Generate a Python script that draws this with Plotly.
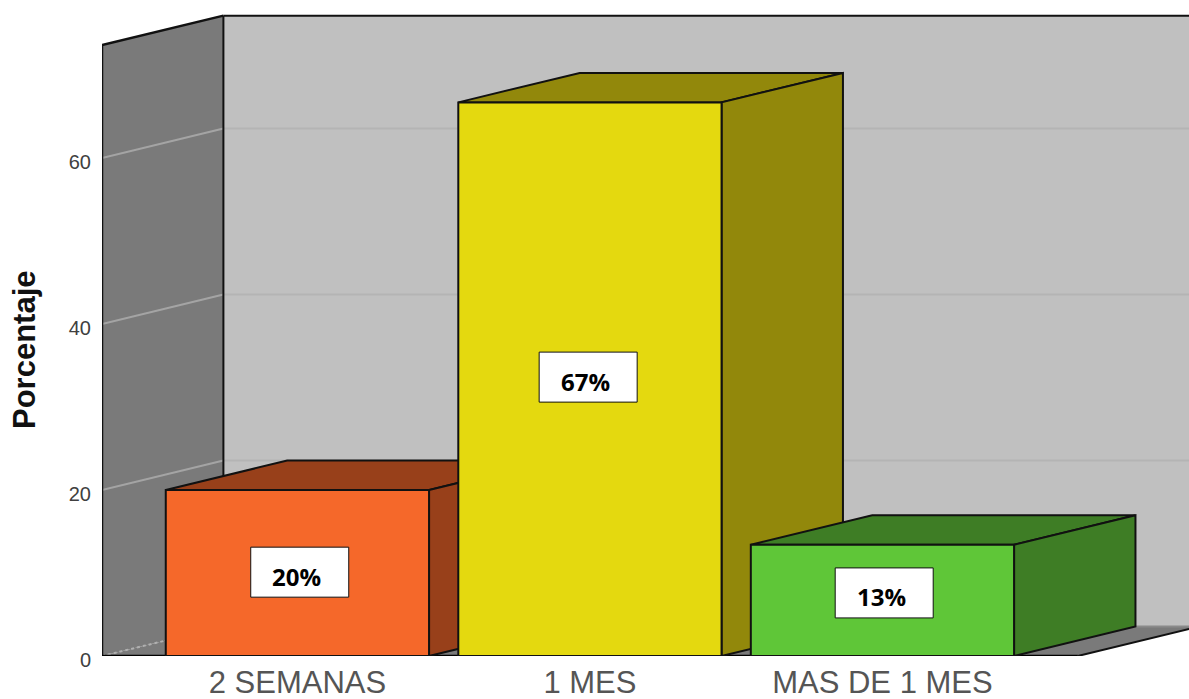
import plotly.graph_objects as go

categories = ["2 SEMANAS", "1 MES", "MAS DE 1 MES"]
positions = [0, 1, 2]
bar_heights = [20.0, 66.7, 13.4]
label_texts = ["20%", "67%", "13%"]
y_ticks = [0, 20, 40, 60]
front_colors = ["#F5682A", "#E4D90F", "#5FC638"]
depth_colors = ["#98401A", "#92880B", "#3E7D25"]

# projection constants
BAR_W = 0.9
DX = 0.415        # depth along x (category units)
DY = 3.55         # depth along y (value units)
X_L = -0.668
X_R = 2.668
WALL_TOP = 73.6
Y_MAX = 656 / 8.3
X_MAX = 3.048
X_END = X_MAX + 0.1
PX_X = 1087 / (X_MAX - X_L)
PX_Y = 8.3
LINE = "#111111"
WALL_DARK = "#7A7A7A"

# label boxes
box_centers_x = [0.008, 0.994, 2.006]
box_centers_y = [10.1, 33.6, 7.6]
BOX_W = 98 / PX_X
BOX_H = 50 / PX_Y


def poly(pts, fill, line=LINE, width=2):
    path = "M " + " L ".join(f"{x},{y}" for x, y in pts) + " Z"
    return dict(type="path", path=path, xref="x", yref="y", fillcolor=fill,
                line=dict(color=line, width=width), layer="below")


def seg(x0, y0, x1, y1, color, width=2, dash="solid", layer="below"):
    return dict(type="line", x0=x0, y0=y0, x1=x1, y1=y1, xref="x", yref="y",
                line=dict(color=color, width=width, dash=dash), layer=layer)


shapes = []
# back wall, left wall, floor (fills only; edges follow)
shapes.append(poly([(X_L + DX, DY), (X_END, DY), (X_END, WALL_TOP + DY), (X_L + DX, WALL_TOP + DY)],
                   "#C0C0C0", line="#C0C0C0", width=0))
shapes.append(poly([(X_L, 0), (X_L + DX, DY), (X_L + DX, WALL_TOP + DY), (X_L, WALL_TOP)],
                   WALL_DARK, line=WALL_DARK, width=0))
shapes.append(poly([(X_L, 0), (X_L + DX, DY), (X_END, DY), (X_R + DX + 0.1, DY + 0.85), (X_R, 0)],
                   WALL_DARK, line=WALL_DARK, width=0))
# grid lines
for t in y_ticks[1:]:
    shapes.append(seg(X_L, t, X_L + DX, t + DY, "#A4A4A4", 2))
    shapes.append(seg(X_L + DX, t + DY, X_END, t + DY, "#B4B4B4", 2))
shapes.append(seg(X_L, 0, X_L + DX, DY, "#B0B0B0", 2, "dot"))
# edges
shapes.append(seg(X_L, 0, X_L, WALL_TOP, LINE, 2.5))
shapes.append(seg(X_L, WALL_TOP, X_L + DX, WALL_TOP + DY, LINE, 2.5))
shapes.append(seg(X_L + DX, DY, X_L + DX, WALL_TOP + DY, LINE, 2))
shapes.append(seg(X_L + DX, WALL_TOP + DY, X_END, WALL_TOP + DY, LINE, 2))
shapes.append(seg(X_L, 0, X_R, 0, "#000000", 2.5))
shapes.append(seg(X_R, 0, X_R + DX, DY, LINE, 2))
shapes.append(seg(X_L + DX, DY, X_END, DY, "#8A8A8A", 2))
# bar depth faces
for p, h, c in zip(positions, bar_heights, depth_colors):
    l, r = p - BAR_W / 2, p + BAR_W / 2
    shapes.append(poly([(l, h), (l + DX, h + DY), (r + DX, h + DY), (r, h)], c))
    shapes.append(poly([(r, 0), (r + DX, DY), (r + DX, h + DY), (r, h)], c))
# label boxes
for bx, by in zip(box_centers_x, box_centers_y):
    shapes.append(dict(type="rect", xref="x", yref="y", x0=bx - BOX_W / 2, x1=bx + BOX_W / 2,
                       y0=by - BOX_H / 2, y1=by + BOX_H / 2, fillcolor="#FFFFFF",
                       line=dict(color="#111111", width=1), layer="above"))

annotations = [
    dict(x=bx, y=by, xref="x", yref="y", text=f"<b>{txt}</b>", showarrow=False,
         xshift=-3, yshift=-4, font=dict(family="Open Sans", size=24, color="#000000"))
    for bx, by, txt in zip(box_centers_x, box_centers_y, label_texts)
]
annotations.append(dict(
    x=0, y=(699 - 350 - 43) / 656, xref="paper", yref="paper", xanchor="center", xshift=-77,
    text="<b>Porcentaje</b>", textangle=-90, showarrow=False, font=dict(size=31, color="#111111"),
))

fig = go.Figure(go.Bar(
    x=positions, y=bar_heights, width=BAR_W,
    marker=dict(color=front_colors, line=dict(color=LINE, width=2)),
    hoverinfo="skip",
))
fig.update_layout(
    width=1189, height=699,
    margin=dict(l=102, r=0, t=0, b=43),
    paper_bgcolor="#FFFFFF", plot_bgcolor="#FFFFFF",
    showlegend=False, shapes=shapes, annotations=annotations,
    font=dict(family="Liberation Sans"),
    xaxis=dict(range=[X_L, X_MAX], tickmode="array", tickvals=positions, ticktext=categories,
               showgrid=False, zeroline=False, showline=False, ticks="",
               ticklabelstandoff=5,
               tickfont=dict(size=31, color="#555555"), automargin=False),
    yaxis=dict(range=[0, Y_MAX], tickmode="array", tickvals=y_ticks,
               showgrid=False, zeroline=False, showline=False, ticks="",
               ticklabelstandoff=10, ticklabelshift=4,
               tickfont=dict(size=20, color="#404040"), automargin=False),
)
fig.write_html("out.html", config={"displayModeBar": False},
               post_script="document.body.style.margin='0';document.documentElement.style.overflow='hidden';")
